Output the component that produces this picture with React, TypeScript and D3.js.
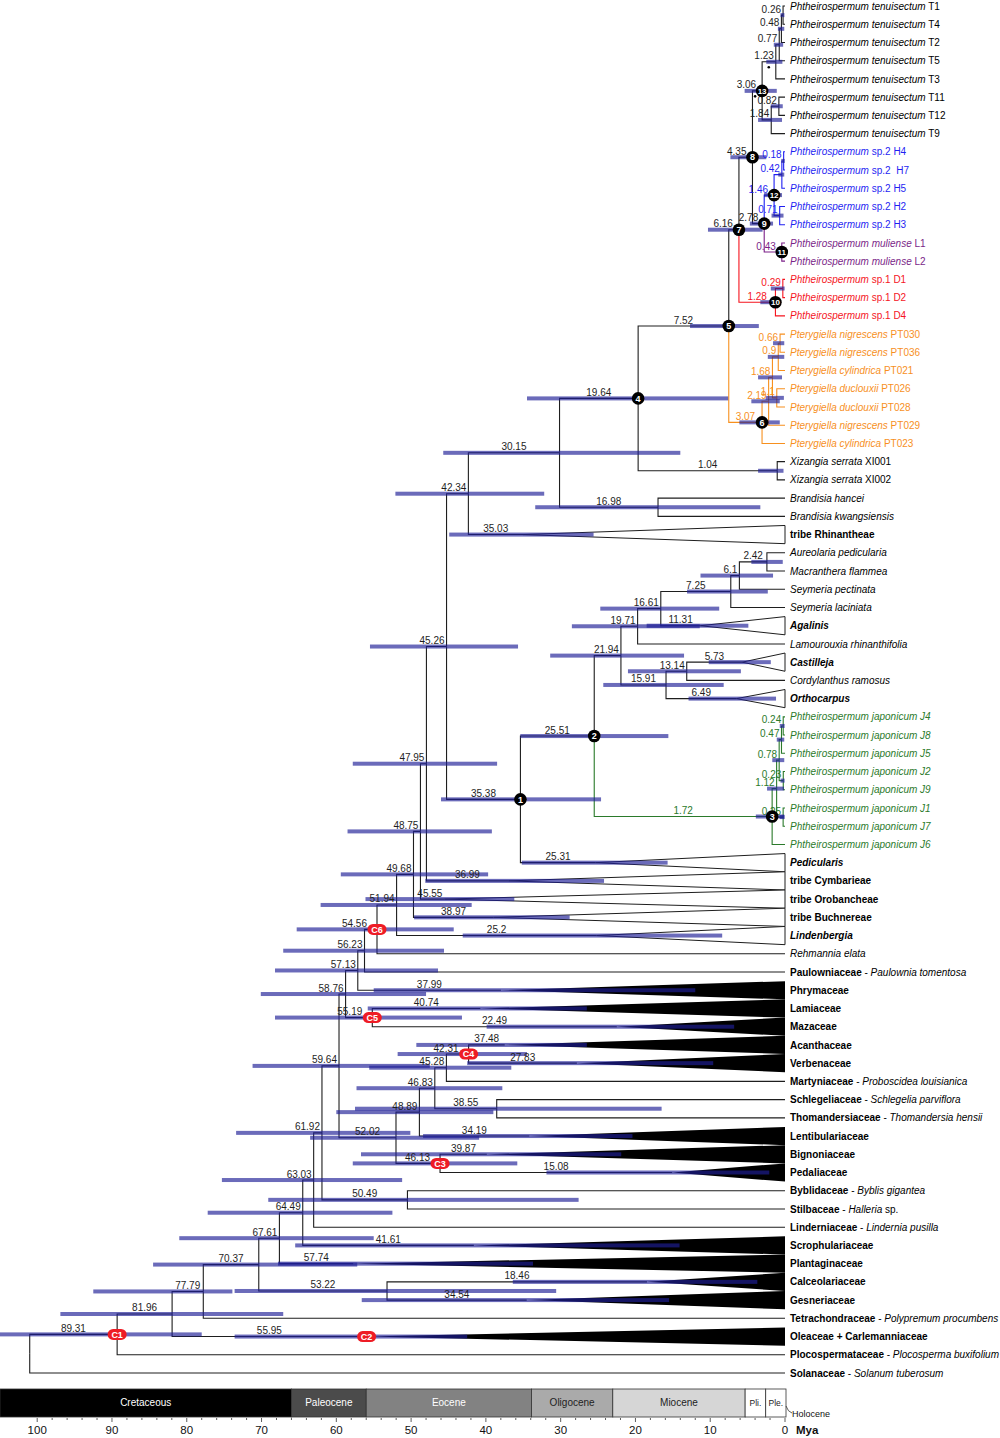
import React from 'react';
import * as d3 from 'd3';

// ---------- DATA ----------
const tipLabels: string[] = [
  'i:Phtheirospermum tenuisectum|n: T1', 'i:Phtheirospermum tenuisectum|n: T4', 'i:Phtheirospermum tenuisectum|n: T2',
  'i:Phtheirospermum tenuisectum|n: T5', 'i:Phtheirospermum tenuisectum|n: T3', 'i:Phtheirospermum tenuisectum|n: T11',
  'i:Phtheirospermum tenuisectum|n: T12', 'i:Phtheirospermum tenuisectum|n: T9',
  'i:Phtheirospermum|n: sp.2 H4', 'i:Phtheirospermum|n: sp.2  H7', 'i:Phtheirospermum|n: sp.2 H5',
  'i:Phtheirospermum|n: sp.2 H2', 'i:Phtheirospermum|n: sp.2 H3',
  'i:Phtheirospermum muliense|n: L1', 'i:Phtheirospermum muliense|n: L2',
  'i:Phtheirospermum|n: sp.1 D1', 'i:Phtheirospermum|n: sp.1 D2', 'i:Phtheirospermum|n: sp.1 D4',
  'i:Pterygiella nigrescens|n: PT030', 'i:Pterygiella nigrescens|n: PT036', 'i:Pterygiella cylindrica|n: PT021',
  'i:Pterygiella duclouxii|n: PT026', 'i:Pterygiella duclouxii|n: PT028', 'i:Pterygiella nigrescens|n: PT029',
  'i:Pterygiella cylindrica|n: PT023',
  'i:Xizangia serrata|n: XI001', 'i:Xizangia serrata|n: XI002',
  'i:Brandisia hancei', 'i:Brandisia kwangsiensis', 'b:tribe Rhinantheae',
  'i:Aureolaria pedicularia', 'i:Macranthera flammea', 'i:Seymeria pectinata', 'i:Seymeria laciniata',
  'bi:Agalinis', 'i:Lamourouxia rhinanthifolia', 'bi:Castilleja', 'i:Cordylanthus ramosus', 'bi:Orthocarpus',
  'i:Phtheirospermum japonicum J4', 'i:Phtheirospermum japonicum J8', 'i:Phtheirospermum japonicum J5',
  'i:Phtheirospermum japonicum J2', 'i:Phtheirospermum japonicum J9', 'i:Phtheirospermum japonicum J1',
  'i:Phtheirospermum japonicum J7', 'i:Phtheirospermum japonicum J6',
  'bi:Pedicularis', 'b:tribe Cymbarieae', 'b:tribe Orobancheae', 'b:tribe Buchnereae', 'bi:Lindenbergia',
  'i:Rehmannia elata', 'b:Paulowniaceae|n: - |i:Paulownia tomentosa',
  'b:Phrymaceae', 'b:Lamiaceae', 'b:Mazaceae', 'b:Acanthaceae', 'b:Verbenaceae',
  'b:Martyniaceae|n: - |i:Proboscidea louisianica', 'b:Schlegeliaceae|n: - |i:Schlegelia parviflora',
  'b:Thomandersiaceae|n: - |i:Thomandersia hensii',
  'b:Lentibulariaceae', 'b:Bignoniaceae', 'b:Pedaliaceae',
  'b:Byblidaceae|n: - |i:Byblis gigantea', 'b:Stilbaceae|n: - |i:Halleria|n: sp.',
  'b:Linderniaceae|n: - |i:Lindernia pusilla',
  'b:Scrophulariaceae', 'b:Plantaginaceae', 'b:Calceolariaceae', 'b:Gesneriaceae',
  'b:Tetrachondraceae|n: - |i:Polypremum procumbens', 'b:Oleaceae + Carlemanniaceae',
  'b:Plocospermataceae|n: - |i:Plocosperma buxifolium', 'b:Solanaceae|n: - |i:Solanum tuberosum',
];

const cladeColors: Record<string, string> = {
  k: '#1e1e1e', b: '#1f1ff2', p: '#7b1f88', r: '#f5141e', o: '#f7901e', g: '#2b7a2b',
};
// tip row ranges coloured by clade
const tipClades: [number, number, string][] = [
  [8, 12, 'b'], [13, 14, 'p'], [15, 17, 'r'], [18, 24, 'o'], [39, 46, 'g'],
];

type Col = { row: number; age: number; hpd: [number, number]; fill: string; badge?: string };
// collapsed clades: row, crown age, 95% HPD
const collapsedTips: Col[] = [
  { row: 29, age: 35.03, hpd: [25.6, 44.9], fill: 'white' },
  { row: 34, age: 11.31, hpd: [4.9, 18.5], fill: 'white' },
  { row: 36, age: 5.73, hpd: [1.9, 10.2], fill: 'white' },
  { row: 38, age: 6.49, hpd: [1.2, 12.9], fill: 'white' },
  { row: 47, age: 25.31, hpd: [15.7, 35.2], fill: 'white' },
  { row: 48, age: 36.99, hpd: [24.2, 48.1], fill: 'white' },
  { row: 49, age: 45.55, hpd: [36.2, 56.1], fill: 'white' },
  { row: 50, age: 38.97, hpd: [28.8, 49.6], fill: 'white' },
  { row: 51, age: 25.2, hpd: [8.4, 43.1], fill: 'white' },
  { row: 54, age: 37.99, hpd: [12.0, 55.0], fill: 'black' },
  { row: 55, age: 40.74, hpd: [26.5, 55.8], fill: 'black' },
  { row: 56, age: 22.49, hpd: [6.8, 39.9], fill: 'black' },
  { row: 57, age: 37.48, hpd: [26.5, 49.3], fill: 'black' },
  { row: 58, age: 27.83, hpd: [9.6, 42.5], fill: 'black' },
  { row: 62, age: 34.19, hpd: [20.4, 48.4], fill: 'black' },
  { row: 63, age: 39.87, hpd: [21.9, 56.7], fill: 'black' },
  { row: 64, age: 15.08, hpd: [2.1, 31.9], fill: 'black' },
  { row: 68, age: 41.61, hpd: [14.1, 65.5], fill: 'black' },
  { row: 69, age: 57.74, hpd: [33.7, 67.8], fill: 'black' },
  { row: 70, age: 18.46, hpd: [3.7, 36.4], fill: 'black' },
  { row: 71, age: 34.54, hpd: [15.5, 56.6], fill: 'black' },
  { row: 73, age: 55.95, hpd: [42.5, 73.6], fill: 'black', badge: 'C2' },
];

type Nd = {
  id: string; age: number; hpd: [number, number] | null; kids: (number | string)[];
  c?: string; mark?: string; badge?: string; dot?: boolean;
};

// Phtheirospermum / Pterygiella / Xizangia / Brandisia
const nodesRhinantheae: Nd[] = [
  { id: 'n026', age: 0.26, hpd: [0.08, 0.6], kids: [0, 1] },
  { id: 'n048', age: 0.48, hpd: [0.1, 0.95], kids: ['n026', 2] },
  { id: 'n077', age: 0.77, hpd: [0.25, 1.5], kids: ['n048', 3] },
  { id: 'n123', age: 1.23, hpd: [0.35, 2.5], kids: ['n077', 4], dot: true },
  { id: 'n082', age: 0.82, hpd: [0.3, 1.9], kids: [5, 6] },
  { id: 'n184', age: 1.84, hpd: [0.4, 3.6], kids: ['n082', 7] },
  { id: 'n306', age: 3.06, hpd: [1.1, 5.4], kids: ['n123', 'n184'], mark: '13', dot: true },
  { id: 'n018', age: 0.18, hpd: [0.03, 0.5], kids: [8, 9], c: 'b' },
  { id: 'n042', age: 0.42, hpd: [0.1, 0.9], kids: ['n018', 10], c: 'b' },
  { id: 'n071', age: 0.71, hpd: [0.2, 1.8], kids: [11, 12], c: 'b' },
  { id: 'n146', age: 1.46, hpd: [0.4, 2.8], kids: ['n042', 'n071'], c: 'b', mark: '12' },
  { id: 'n043', age: 0.43, hpd: [0.1, 0.9], kids: [13, 14], c: 'p', mark: '11' },
  { id: 'n278', age: 2.78, hpd: [1.6, 4.7], kids: ['n146', 'n043'], mark: '9' },
  { id: 'n435', age: 4.35, hpd: [2.5, 7.3], kids: ['n306', 'n278'], mark: '8' },
  { id: 'n029', age: 0.29, hpd: [0.05, 1.9], kids: [15, 16], c: 'r' },
  { id: 'n128', age: 1.28, hpd: [0.9, 3.3], kids: ['n029', 17], c: 'r', mark: '10' },
  { id: 'n616', age: 6.16, hpd: [3.0, 10.3], kids: ['n435', 'n128'], mark: '7' },
  { id: 'n066', age: 0.66, hpd: [0.1, 1.6], kids: [18, 19], c: 'o' },
  { id: 'n090', age: 0.9, hpd: [0.1, 2.3], kids: ['n066', 20], c: 'o' },
  { id: 'n110', age: 1.1, hpd: [0.15, 2.6], kids: [21, 22], c: 'o' },
  { id: 'n168', age: 1.68, hpd: [0.4, 3.6], kids: ['n090', 'n110'], c: 'o' },
  { id: 'n219', age: 2.19, hpd: [0.7, 4.5], kids: ['n168', 23], c: 'o' },
  { id: 'n307', age: 3.07, hpd: [0.7, 6.1], kids: ['n219', 24], c: 'o', mark: '6' },
  { id: 'n752', age: 7.52, hpd: [3.5, 12.7], kids: ['n616', 'n307'], mark: '5' },
  { id: 'n104', age: 1.04, hpd: [0.2, 3.6], kids: [25, 26] },
  { id: 'n1964', age: 19.64, hpd: [7.6, 34.5], kids: ['n752', 'n104'], mark: '4' },
  { id: 'n1698', age: 16.98, hpd: [3.3, 33.4], kids: [27, 28] },
  { id: 'n3015', age: 30.15, hpd: [14.0, 45.7], kids: ['n1964', 'n1698'] },
  { id: 'n4234', age: 42.34, hpd: [32.2, 52.1], kids: ['n3015', 29] },
];

// rest of Orobanchaceae
const nodesOrobanchaceae: Nd[] = [
  { id: 'n242', age: 2.42, hpd: [0.3, 4.5], kids: [30, 31] },
  { id: 'n610', age: 6.1, hpd: [1.6, 11.3], kids: ['n242', 32] },
  { id: 'n725', age: 7.25, hpd: [2.3, 13.1], kids: ['n610', 33] },
  { id: 'n1661', age: 16.61, hpd: [8.8, 24.7], kids: ['n725', 34] },
  { id: 'n1971', age: 19.71, hpd: [11.4, 28.5], kids: ['n1661', 35] },
  { id: 'n1314', age: 13.14, hpd: [5.9, 21.0], kids: [36, 37] },
  { id: 'n1591', age: 15.91, hpd: [8.2, 24.3], kids: ['n1314', 38] },
  { id: 'n2194', age: 21.94, hpd: [13.5, 31.4], kids: ['n1971', 'n1591'] },
  { id: 'n024', age: 0.24, hpd: [0.05, 0.7], kids: [39, 40], c: 'g' },
  { id: 'n047', age: 0.47, hpd: [0.1, 1.1], kids: ['n024', 41], c: 'g' },
  { id: 'n023', age: 0.23, hpd: [0.05, 0.6], kids: [42, 43], c: 'g' },
  { id: 'n078', age: 0.78, hpd: [0.1, 1.7], kids: ['n047', 'n023'], c: 'g' },
  { id: 'n025', age: 0.25, hpd: [0.05, 0.7], kids: [44, 45], c: 'g' },
  { id: 'n112', age: 1.12, hpd: [0.15, 2.4], kids: ['n078', 'n025'], c: 'g' },
  { id: 'n172', age: 1.72, hpd: [0.1, 3.9], kids: ['n112', 46], c: 'g', mark: '3' },
  { id: 'n2551', age: 25.51, hpd: [15.6, 35.4], kids: ['n2194', 'n172'], mark: '2' },
  { id: 'n3538', age: 35.38, hpd: [24.6, 46.0], kids: ['n2551', 47], mark: '1' },
  { id: 'n4526', age: 45.26, hpd: [35.7, 55.5], kids: ['n4234', 'n3538'] },
  { id: 'n4795', age: 47.95, hpd: [38.5, 57.8], kids: ['n4526', 48] },
  { id: 'n4875', age: 48.75, hpd: [39.2, 58.5], kids: ['n4795', 49] },
  { id: 'n4968', age: 49.68, hpd: [39.7, 59.4], kids: ['n4875', 50] },
  { id: 'n5194', age: 51.94, hpd: [41.9, 62.1], kids: ['n4968', 51] },
  { id: 'n5456', age: 54.56, hpd: [44.3, 65.3], kids: ['n5194', 52], badge: 'C6' },
];

// Lamiales backbone
const nodesLamiales: Nd[] = [
  { id: 'n5623', age: 56.23, hpd: [45.6, 67.1], kids: ['n5456', 53] },
  { id: 'n5713', age: 57.13, hpd: [46.4, 68.2], kids: ['n5623', 54] },
  { id: 'n5519', age: 55.19, hpd: [43.2, 68.2], kids: [55, 56], badge: 'C5' },
  { id: 'n5876', age: 58.76, hpd: [48.0, 70.1], kids: ['n5713', 'n5519'] },
  { id: 'n4231', age: 42.31, hpd: [34.5, 51.8], kids: [57, 58], badge: 'C4' },
  { id: 'n4528', age: 45.28, hpd: [36.6, 55.6], kids: ['n4231', 59] },
  { id: 'n3855', age: 38.55, hpd: [16.5, 57.5], kids: [60, 61] },
  { id: 'n4683', age: 46.83, hpd: [37.8, 57.3], kids: ['n4528', 'n3855'] },
  { id: 'n4889', age: 48.89, hpd: [39.0, 60.0], kids: ['n4683', 62] },
  { id: 'n4613', age: 46.13, hpd: [35.8, 57.8], kids: [63, 64], badge: 'C3' },
  { id: 'n5202', age: 52.02, hpd: [40.9, 63.5], kids: ['n4889', 'n4613'] },
  { id: 'n5964', age: 59.64, hpd: [47.5, 71.2], kids: ['n5876', 'n5202'] },
  { id: 'n5049', age: 50.49, hpd: [27.6, 69.1], kids: [65, 66] },
  { id: 'n6192', age: 61.92, hpd: [50.1, 73.4], kids: ['n5964', 'n5049'] },
  { id: 'n6303', age: 63.03, hpd: [51.2, 75.3], kids: ['n6192', 67] },
  { id: 'n6449', age: 64.49, hpd: [52.5, 77.2], kids: ['n6303', 68] },
  { id: 'n6761', age: 67.61, hpd: [55.0, 81.0], kids: ['n6449', 69] },
  { id: 'n5322', age: 53.22, hpd: [30.6, 73.6], kids: [70, 71] },
  { id: 'n7037', age: 70.37, hpd: [57.2, 84.5], kids: ['n6761', 'n5322'] },
  { id: 'n7779', age: 77.79, hpd: [73.9, 92.5], kids: ['n7037', 72] },
  { id: 'n8196', age: 81.96, hpd: [67.1, 96.9], kids: ['n7779', 73] },
  { id: 'n8931', age: 89.31, hpd: [78.0, 105.0], kids: ['n8196', 74], badge: 'C1' },
  { id: 'root', age: 101.0, hpd: null, kids: ['n8931', 75] },
];

const periods = [
  { name: 'Cretaceous', from: 105, to: 66, fill: '#000000', text: '#ffffff' },
  { name: 'Paleocene', from: 66, to: 56, fill: '#4b4b4b', text: '#ffffff' },
  { name: 'Eocene', from: 56, to: 33.9, fill: '#828282', text: '#ffffff' },
  { name: 'Oligocene', from: 33.9, to: 23.03, fill: '#aaaaaa', text: '#222222' },
  { name: 'Miocene', from: 23.03, to: 5.33, fill: '#d6d6d6', text: '#222222' },
  { name: 'Pli.', from: 5.33, to: 2.58, fill: '#ffffff', text: '#222222' },
  { name: 'Ple.', from: 2.58, to: 0, fill: '#ffffff', text: '#222222' },
];
const majorTicks = [100, 90, 80, 70, 60, 50, 40, 30, 20, 10, 0];

// ---------- DRAWING ----------
const FONT = 'Liberation Sans, Arial, sans-serif';
const NARROW = 'Liberation Sans Narrow, Arial Narrow, Liberation Sans, sans-serif';
const BAR = 'rgba(30,30,150,0.66)';

function numWidth(s: string) {
  let w = 0;
  for (const ch of s) w += ch === '.' ? 2.78 : 5.56;
  return w;
}

function parseLabel(s: string) {
  return s.split('|').map((seg) => {
    const i = seg.indexOf(':');
    return { style: seg.slice(0, i), text: seg.slice(i + 1) };
  });
}

export default function App() {
  const x = d3.scaleLinear().domain([0, 100]).range([785, 37.2]);
  const yRow = d3.scaleLinear().domain([0, 75]).range([6, 1373]);

  const all = [...nodesRhinantheae, ...nodesOrobanchaceae, ...nodesLamiales];
  const byId = new Map(all.map((n) => [n.id, n]));
  const colByRow = new Map(collapsedTips.map((c) => [c.row, c]));
  const key = (k: number | string) => (typeof k === 'number' ? 't' + k : k);
  const pos = new Map<string, { x: number; y: number }>();
  const parent = new Map<string, string>();

  const tipColorKey = (i: number) => {
    for (const [a, b, c] of tipClades) if (i >= a && i <= b) return c;
    return 'k';
  };

  function layout(id: string): { x: number; y: number } {
    if (pos.has(id)) return pos.get(id)!;
    let p: { x: number; y: number };
    if (id.startsWith('t')) {
      const i = +id.slice(1);
      const c = colByRow.get(i);
      p = { x: x(c ? c.age : 0), y: yRow(i) };
    } else {
      const n = byId.get(id)!;
      n.kids.forEach((k) => parent.set(key(k), id));
      const ks = n.kids.map((k) => layout(key(k)));
      p = { x: x(n.age), y: (ks[0].y + ks[ks.length - 1].y) / 2 };
    }
    pos.set(id, p);
    return p;
  }
  layout('root');

  const colorOf = (id: string) => {
    if (id.startsWith('t')) return cladeColors[tipColorKey(+id.slice(1))];
    return cladeColors[byId.get(id)!.c || 'k'];
  };

  const edges: JSX.Element[] = [];
  parent.forEach((par, child) => {
    const pp = pos.get(par)!;
    const cp = pos.get(child)!;
    edges.push(
      <path key={'e' + child} d={`M${pp.x},${pp.y}V${cp.y}H${cp.x}`} fill="none"
        stroke={colorOf(child)} strokeWidth={1.1} />
    );
  });

  const triangles = collapsedTips.map((c) => {
    const p = pos.get('t' + c.row)!;
    const h = 9.1;
    return (
      <polygon key={'tri' + c.row}
        points={`${p.x},${p.y} ${x(0)},${p.y - h} ${x(0)},${p.y + h}`}
        fill={c.fill === 'black' ? '#000' : '#fff'}
        stroke={c.fill === 'black' ? 'none' : '#1e1e1e'} strokeWidth={1} />
    );
  });

  // labelled nodes: internal + collapsed
  type LN = { id: string; age: number; hpd: [number, number] | null; color: string; mark?: string; badge?: string; dot?: boolean };
  const labelled: LN[] = [];
  all.forEach((n) => {
    if (n.id === 'root') return;
    labelled.push({ id: n.id, age: n.age, hpd: n.hpd, color: cladeColors[n.c || 'k'], mark: n.mark, badge: n.badge, dot: n.dot });
  });
  collapsedTips.forEach((c) => {
    labelled.push({ id: 't' + c.row, age: c.age, hpd: c.hpd, color: cladeColors.k, badge: c.badge });
  });

  const bars = labelled.filter((l) => l.hpd).map((l) => {
    const p = pos.get(l.id)!;
    const [lo, hi] = l.hpd!;
    return <rect key={'b' + l.id} x={x(hi)} y={p.y - 2} width={x(lo) - x(hi)} height={4} fill={BAR} />;
  });

  const ageLabels = labelled.map((l) => {
    const p = pos.get(l.id)!;
    const pp = pos.get(parent.get(l.id)!)!;
    const s = String(l.age);
    const w = numWidth(s);
    const off = l.mark ? 6 : l.badge ? 10 : 2;
    const mid = (pp.x + p.x) / 2;
    const end = mid + w / 2 > p.x - off;
    return (
      <text key={'l' + l.id} x={end ? p.x - off : mid} y={p.y - 2.5}
        textAnchor={end ? 'end' : 'middle'} fontSize={10} fill={l.color}>{s}</text>
    );
  });

  const markers = labelled.filter((l) => l.mark || l.badge).map((l) => {
    const p = pos.get(l.id)!;
    if (l.mark) {
      return (
        <g key={'m' + l.id}>
          <circle cx={p.x} cy={p.y} r={6.3} fill="#000" />
          <text x={p.x} y={p.y + 3.2} textAnchor="middle" fontSize={l.mark.length > 1 ? 8 : 9}
            fontWeight="bold" fill="#fff">{l.mark}</text>
        </g>
      );
    }
    return (
      <g key={'m' + l.id}>
        <rect x={p.x - 9.5} y={p.y - 5.5} width={19} height={11} rx={5.5} fill="#ee1c25" />
        <text x={p.x} y={p.y + 3.2} textAnchor="middle" fontSize={9} fontWeight="bold" fill="#fff">{l.badge}</text>
      </g>
    );
  });

  const dots = labelled.filter((l) => l.dot).map((l) => {
    const p = pos.get(l.id)!;
    return <circle key={'d' + l.id} cx={p.x - 7} cy={p.y + 5.5} r={1.3} fill="#000" />;
  });

  const tipTexts = tipLabels.map((lab, i) => {
    const y = yRow(i);
    const col = cladeColors[tipColorKey(i)];
    return (
      <text key={'tl' + i} x={790} y={y + 3.6} fontSize={10} fill={col === cladeColors.k ? '#000' : col}
        style={{ whiteSpace: 'pre' }}>
        {parseLabel(lab).map((seg, j) => (
          <tspan key={j} fontStyle={seg.style.includes('i') ? 'italic' : 'normal'}
            fontWeight={seg.style.includes('b') ? 'bold' : 'normal'}>{seg.text}</tspan>
        ))}
      </text>
    );
  });

  // geological scale
  const gTop = 1389, gBot = 1417;
  const geo = periods.map((p) => {
    const x0 = Math.max(0, x(p.from)), x1 = x(p.to) + (p.to === 0 ? 1 : 0);
    return (
      <g key={p.name}>
        <rect x={x0} y={gTop} width={x1 - x0} height={gBot - gTop} fill={p.fill} stroke="#333" strokeWidth={0.8} />
        <text x={(x0 + x1) / 2} y={gTop + 17} textAnchor="middle" fontSize={p.name.length < 5 ? 8.5 : 10}
          fontFamily={NARROW} fill={p.text}>{p.name}</text>
      </g>
    );
  });
  const minorTicks = d3.range(0, 102, 2);

  return (
    <svg width={1000} height={1438} style={{ position: 'absolute', left: 0, top: 0, background: '#fff' }}
      fontFamily={FONT}>
      <rect x={0} y={0} width={1000} height={1438} fill="#fff" />
      {triangles}
      {edges}
      {bars}
      {ageLabels}
      {markers}
      {dots}
      {tipTexts}
      {geo}
      {minorTicks.map((t) => (
        <line key={'mt' + t} x1={x(t)} x2={x(t)} y1={gBot + 1} y2={gBot + (t % 10 === 0 ? 5 : 3)} stroke="#333" strokeWidth={0.8} />
      ))}
      {majorTicks.map((t) => (
        <text key={'tk' + t} x={x(t)} y={1434} textAnchor="middle" fontSize={11.5} fill="#111">{t}</text>
      ))}
      <text x={796} y={1434} fontSize={11.5} fontWeight="bold" fill="#111">Mya</text>
      <path d={`M${x(0) + 1},${gTop + 17} Q${x(0) + 3},${gTop + 23} ${x(0) + 7},${gTop + 24}`} fill="none" stroke="#333" strokeWidth={0.8} />
      <text x={792} y={gTop + 28} fontSize={9} fontFamily={NARROW} fill="#111">Holocene</text>
    </svg>
  );
}
